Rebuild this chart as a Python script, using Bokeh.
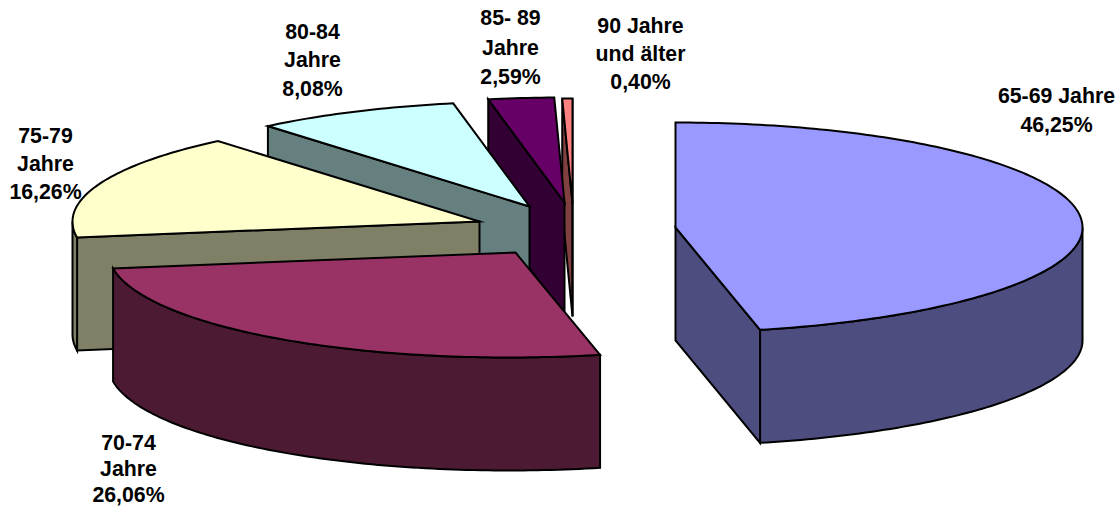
import math
from bokeh.plotting import figure
from bokeh.embed import file_html
from bokeh.resources import INLINE
from bokeh.core.properties import value

# Data
age_groups = ["65-69 Jahre", "70-74 Jahre", "75-79 Jahre", "80-84 Jahre", "85- 89 Jahre", "90 Jahre und älter"]
shares = [46.25, 26.06, 16.26, 8.08, 2.59, 0.40]
share_labels = ["46,25%", "26,06%", "16,26%", "8,08%", "2,59%", "0,40%"]

# Styles and layout (page pixels)
top_colors = ["#9999FF", "#993366", "#FFFFCC", "#CCFFFF", "#660066", "#FF8080"]
wall_colors = ["#4D4D80", "#4D1A33", "#808066", "#668080", "#330033", "#804040"]
apexes = [(675, 227), (515, 252), (479, 221), (529, 206), (564, 202), (572, 203)]
RX, RY, DEPTH = 407, 105, 113
label_lines = [
    ["65-69 Jahre", "46,25%"],
    ["70-74", "Jahre", "26,06%"],
    ["75-79", "Jahre", "16,26%"],
    ["80-84", "Jahre", "8,08%"],
    ["85- 89", "Jahre", "2,59%"],
    ["90 Jahre", "und älter", "0,40%"],
]
label_x = [1056, 128, 45, 312, 510, 640]
label_y = [[95, 124], [442, 468, 494], [135, 163, 191], [31, 59, 88], [17, 47, 76], [25, 53, 81]]

W, H = 1117, 506
p = figure(width=W, height=H, x_range=(0, W), y_range=(H, 0),
           output_backend="svg", toolbar_location=None, min_border=0,
           outline_line_color=None, background_fill_color="white")
p.axis.visible = False
p.grid.visible = False


def rim(cx, cy, t):
    dy = -RY * math.cos(t)
    # slight bend of the ellipse towards the left at the front (perspective)
    dx = RX * math.sin(t) - 0.0006 * max(dy, 0) ** 2
    return cx + dx, cy + dy


def arc(cx, cy, a, b):
    n = max(2, int(abs(b - a) / math.radians(1)) + 2)
    return [rim(cx, cy, a + (b - a) * i / (n - 1)) for i in range(n)]


def face(pts, color):
    p.patch([q[0] for q in pts], [q[1] for q in pts], fill_color=color, line_color="black",
            line_width=2, line_join="miter")


def down(pts):
    return [(x, y + DEPTH) for x, y in pts]


total = sum(shares)
angles = [0.0]
for s in shares:
    angles.append(angles[-1] + 2 * math.pi * s / total)

for i in reversed(range(len(shares))):
    a, b = angles[i], angles[i + 1]
    cx, cy = apexes[i]
    mid = rim(cx, cy, (a + b) / 2)
    # Cut faces, shown when the slice top lies above the edge
    for t in (a, b):
        q = rim(cx, cy, t)
        dx, dy = q[0] - cx, q[1] - cy
        mx, my = mid[0] - cx, mid[1] - cy
        side_m = dx * my - dy * mx
        side_up = -dx
        if side_m * side_up > 0:
            edge = [(cx, cy), q]
            face(edge + down(edge)[::-1], wall_colors[i])
    # Outer wall (front half of the rim only)
    lo, hi = max(a, math.pi / 2), min(b, 3 * math.pi / 2)
    if hi > lo:
        r = arc(cx, cy, lo, hi)
        face(r + down(r)[::-1], wall_colors[i])
    # Top face
    face([(cx, cy)] + arc(cx, cy, a, b), top_colors[i])

for lines, x, ys in zip(label_lines, label_x, label_y):
    p.text([x] * len(lines), ys, text=lines, text_font=value("Liberation Sans"),
           text_font_style="bold", text_font_size="21.3px", text_color="black",
           text_align="center", text_baseline="middle")

open("out.html", "w").write(file_html(p, INLINE))
